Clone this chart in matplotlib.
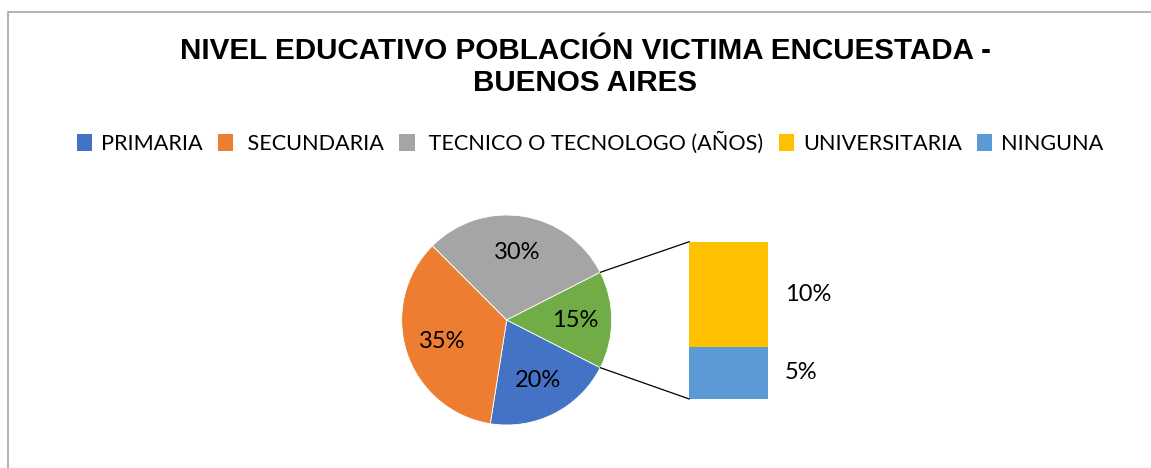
import numpy as np
import matplotlib
matplotlib.use('Agg')
import matplotlib.pyplot as plt
from matplotlib.patches import Patch, Rectangle, ConnectionPatch

# datos
categorias = ['PRIMARIA', ' SECUNDARIA', ' TECNICO O TECNOLOGO (AÑOS)', 'UNIVERSITARIA', 'NINGUNA']
colores = ['#4472C4', '#ED7D31', '#A5A5A5', '#FFC000', '#5B9BD5']
pie_valores = [20, 35, 30, 15]          # primaria, secundaria, tecnico, otros
pie_colores = ['#4472C4', '#ED7D31', '#A5A5A5', '#70AD47']
barra_valores = [5, 10]                 # ninguna, universitaria
barra_colores = ['#5B9BD5', '#FFC000']

W, H = 1151, 468
fig = plt.figure(figsize=(W / 100, H / 100), dpi=100)

def px_rect(x0, y0, x1, y1):
    return [x0 / W, 1 - y1 / H, (x1 - x0) / W, (y1 - y0) / H]

# borde del grafico
fig.patches.append(Rectangle((8 / W, -0.1), 1.2, 1 - 12 / H + 0.1, transform=fig.transFigure,
                             fill=False, edgecolor='#a6a6a6', linewidth=1.2))

fig.text(585 / W, 1 - 67 / H, 'NIVEL EDUCATIVO POBLACIÓN VICTIMA ENCUESTADA -\nBUENOS AIRES',
         ha='center', va='center', fontsize=21.3, fontweight='bold', family='Liberation Sans',
         linespacing=1.2)

handles = [Patch(facecolor=c) for c in colores]
fig.legend(handles, categorias, loc='center', bbox_to_anchor=(590 / W, 1 - 143 / H), ncol=5,
           frameon=False, handlelength=0.72, handleheight=0.8, handletextpad=0.4,
           columnspacing=0.7, prop={'family': 'Lato', 'size': 15.6})

# pastel
ax = fig.add_axes(px_rect(401.7, 215, 611.7, 425))
wedges, _, autotexts = ax.pie(pie_valores, colors=pie_colores, startangle=-27, counterclock=False,
                              radius=1, autopct=lambda p: f'{p:.0f}%', pctdistance=0.65,
                              wedgeprops=dict(edgecolor='white', linewidth=0.6),
                              textprops=dict(family='Lato', size=17))
ax.set_xlim(-1, 1)
ax.set_ylim(-1, 1)
ax.set_aspect('auto')
ax.axis('off')

# barra
ax2 = fig.add_axes(px_rect(689.3, 241.7, 767.7, 399))
abajo = 0
for v, c in zip(barra_valores, barra_colores):
    ax2.bar(0, v, width=1, bottom=abajo, color=c)
    ax2.text(0.72, abajo + v / 2, f'{v}%', ha='left', va='center', family='Lato', size=17)
    abajo += v
ax2.set_xlim(-0.5, 0.5)
ax2.set_ylim(0, sum(barra_valores))
ax2.axis('off')

# lineas de conexion
w = wedges[3]
t1, t2 = np.radians(min(w.theta1, w.theta2)), np.radians(max(w.theta1, w.theta2))
for t, yb in [(t2, sum(barra_valores)), (t1, 0)]:
    con = ConnectionPatch(xyA=(np.cos(t), np.sin(t)), coordsA=ax.transData,
                          xyB=(-0.5, yb), coordsB=ax2.transData, color='black', linewidth=0.9)
    fig.add_artist(con)

fig.savefig('out.png', dpi=100)
